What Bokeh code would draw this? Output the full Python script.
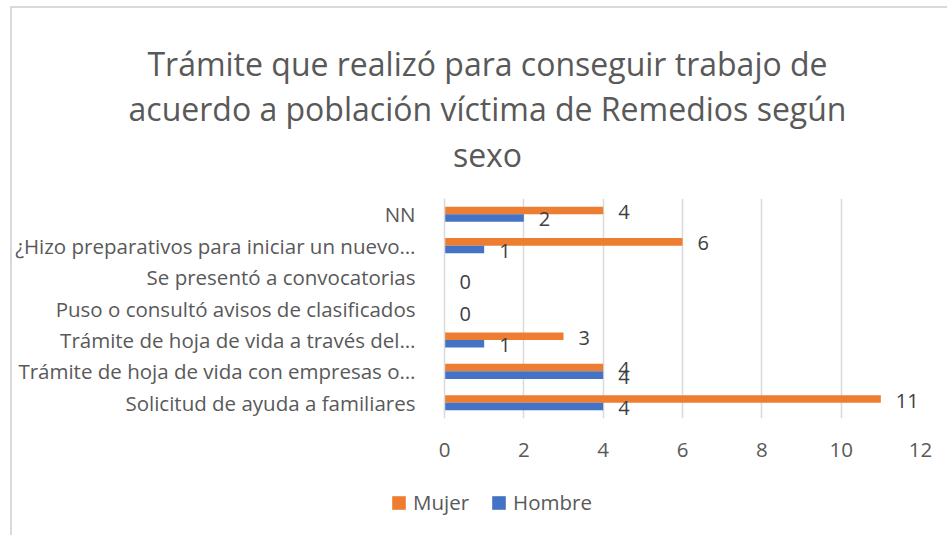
from bokeh.plotting import figure
from bokeh.models import FactorRange, Range1d, ColumnDataSource, Legend, LegendItem, FixedTicker
from bokeh.transform import dodge
from bokeh.core.properties import value
from bokeh.embed import file_html
from bokeh.resources import INLINE

# ---- data (bottom to top) ----
categories = [
    "Solicitud de ayuda a familiares",
    "Trámite de hoja de vida con empresas o…",
    "Trámite de hoja de vida a través del…",
    "Puso o consultó avisos de clasificados",
    "Se presentó a convocatorias",
    "¿Hizo preparativos para iniciar un nuevo…",
    "NN",
]
mujer = [11, 4, 3, 0, 0, 6, 4]
hombre = [4, 4, 1, 0, 0, 1, 2]
x_ticks = [0, 2, 4, 6, 8, 10, 12]
title_lines = [
    "Trámite que realizó para conseguir trabajo de",
    "acuerdo a población víctima de Remedios según",
    "sexo",
]
series_names = ["Mujer", "Hombre"]

ORANGE = "#ED7D31"
BLUE = "#4472C4"
FONT = "Open Sans"
W = 947
GRAY = "#d9d9d9"
LEFT_LINE = f"linear-gradient({GRAY}, {GRAY}) 10px 0px / 2px 100% no-repeat"


def bare_figure(h, xr, yr):
    f = figure(width=W, height=h, x_range=xr, y_range=yr,
               output_backend="svg", toolbar_location=None,
               x_axis_location=None, y_axis_location=None,
               min_border=0, min_border_left=0, min_border_right=0,
               min_border_top=0, min_border_bottom=0)
    f.outline_line_color = None
    f.grid.visible = False
    f.background_fill_color = None
    f.border_fill_color = None
    return f


# ---------- title ----------
T_H = 196
pt = bare_figure(T_H, Range1d(0, W), Range1d(T_H, 0))
pt.styles = {"background": (f"linear-gradient({GRAY}, {GRAY}) 10px 6px / 2px 190px no-repeat, "
                            f"linear-gradient({GRAY}, {GRAY}) 10px 6px / 937px 2px no-repeat")}
tsrc = ColumnDataSource(dict(x=[487] * 3, y=[62.7, 108.0, 154.0], t=title_lines))
pt.text(x="x", y="y", text="t", source=tsrc, text_align="center", text_baseline="alphabetic",
        text_font=value(FONT), text_font_size="32px", text_color="#595959")

# ---------- main chart ----------
p = figure(
    width=W, height=274,
    y_range=FactorRange(factors=categories, range_padding=0),
    x_range=Range1d(0, 12),
    output_backend="svg", toolbar_location=None,
    min_border_left=444, min_border_right=27, min_border_top=2, min_border_bottom=52,
)
p.outline_line_color = None
p.border_fill_color = None
p.styles = {"background": LEFT_LINE}

src = ColumnDataSource(dict(cat=categories, m=mujer, h=hombre, hl=[str(v) for v in hombre]))

bh = 0.24
off = 0.12
r_m = p.hbar(y=dodge("cat", off, range=p.y_range), right="m", left=0, height=bh,
             source=src, color=ORANGE, line_color=None)
r_h = p.hbar(y=dodge("cat", -off, range=p.y_range), right="h", left=0, height=bh,
             source=src, color=BLUE, line_color=None)

# data labels (orange ones only where value > 0, as in the picture)
m_idx = [i for i, v in enumerate(mujer) if v > 0]
src_ml = ColumnDataSource(dict(cat=[categories[i] for i in m_idx], m=[mujer[i] for i in m_idx],
                               ml=[str(mujer[i]) for i in m_idx]))
p.text(x="m", y=dodge("cat", off, range=p.y_range), text="ml", source=src_ml,
       x_offset=15, y_offset=1.5, text_align="left", text_baseline="middle",
       text_font=value(FONT), text_font_size="20px", text_color="#404040")
p.text(x="h", y=dodge("cat", -off, range=p.y_range), text="hl", source=src,
       x_offset=15, y_offset=1.5, text_align="left", text_baseline="middle",
       text_font=value(FONT), text_font_size="20px", text_color="#404040")

p.xaxis.ticker = FixedTicker(ticks=x_ticks)
p.xaxis.axis_line_color = None
p.xaxis.major_tick_line_color = None
p.xaxis.minor_tick_line_color = None
p.xaxis.major_label_text_font = FONT
p.xaxis.major_label_text_font_size = "20.5px"
p.xaxis.major_label_text_color = "#595959"
p.xaxis.major_label_standoff = 18

p.yaxis.axis_line_color = GRAY
p.yaxis.axis_line_width = 1.5
p.yaxis.major_tick_line_color = None
p.yaxis.minor_tick_line_color = None
p.yaxis.major_label_text_font = FONT
p.yaxis.major_label_text_font_size = "20.5px"
p.yaxis.major_label_text_color = "#595959"
p.yaxis.major_label_standoff = 23

p.ygrid.visible = False
p.xgrid.grid_line_color = GRAY
p.xgrid.grid_line_width = 1.5

# ---------- legend ----------
L_H = 65
pl = bare_figure(L_H, Range1d(0, 1), Range1d(0, 1))
pl.styles = {"background": LEFT_LINE}
# zero-size proxies of the two series (only their legend swatches are visible)
lm = pl.hbar(y="m", left=0, right=0, height=0, source=src, color=ORANGE, line_color=None)
lh = pl.hbar(y="h", left=0, right=0, height=0, source=src, color=BLUE, line_color=None)
legend = Legend(items=[LegendItem(label=series_names[0], renderers=[lm]),
                       LegendItem(label=series_names[1], renderers=[lh])],
                orientation="horizontal", location=(390, 19),
                glyph_width=17, glyph_height=17, label_standoff=6, spacing=21,
                padding=0, margin=0, border_line_color=None, background_fill_alpha=0,
                label_text_font=FONT, label_text_font_size="20.5px", label_text_color="#595959")
pl.add_layout(legend, "center")

open("out.html", "w").write(file_html([pt, p, pl], INLINE))
